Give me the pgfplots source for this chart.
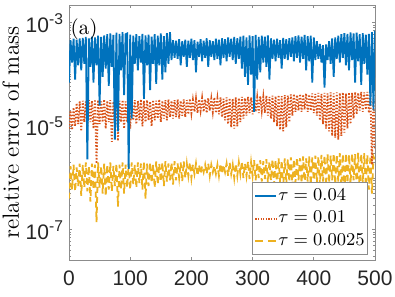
\documentclass[border=0pt]{standalone}
\usepackage{pgfplots}
\pgfplotsset{compat=1.18}
\usepackage{pgfplotstable}
\usepackage{fontspec}
\newfontfamily\hv{Liberation Sans}
\definecolor{mblue}{rgb}{0,0.447,0.741}
\definecolor{mred}{rgb}{0.85,0.325,0.098}
\definecolor{myel}{rgb}{0.929,0.694,0.125}
\pgfplotstableread{
x b r y
0 7.0e-5 9.0e-6 4.0e-7
2.5 4.6e-4 2.0e-5 1.7e-6
5 1.7e-4 8.5e-6 6.0e-7
7.5 4.9e-4 2.3e-5 1.8e-6
10 8.0e-5 1.0e-5 5.5e-7
12.5 4.7e-4 2.8e-5 1.6e-6
15 1.5e-4 1.1e-5 7.0e-7
17.5 5.0e-4 3.0e-5 1.9e-6
20 1.2e-4 8.0e-6 4.5e-7
22.5 5.1e-4 3.1e-5 1.8e-6
25 1.6e-4 1.2e-5 6.5e-7
27.5 5.3e-4 3.0e-5 2.0e-6
30 2.3e-6 1.0e-5 5.5e-7
32.5 5.0e-4 3.2e-5 1.7e-6
35 1.4e-4 1.2e-5 3.5e-7
37.5 5.4e-4 3.1e-5 1.9e-6
40 7.0e-5 9.0e-6 6.0e-7
42.5 5.2e-4 3.3e-5 1.8e-6
45 1.5e-4 1.9e-6 1.4e-7
47.5 5.6e-4 3.2e-5 2.0e-6
50 2.5e-5 1.1e-5 6.5e-7
52.5 5.3e-4 3.0e-5 1.7e-6
55 9.0e-5 1.2e-5 5.0e-7
57.5 5.7e-4 3.3e-5 1.9e-6
60 1.3e-4 9.0e-6 4.5e-7
62.5 6.0e-4 3.1e-5 1.8e-6
65 6.0e-5 1.2e-5 6.0e-7
67.5 6.2e-4 3.2e-5 2.0e-6
70 1.4e-4 5.0e-6 5.5e-7
72.5 5.8e-4 3.0e-5 1.7e-6
75 5.5e-6 1.1e-5 7.0e-7
77.5 6.4e-4 3.3e-5 1.9e-6
80 8.0e-6 5.2e-6 2.8e-7
82.5 6.1e-4 3.1e-5 1.8e-6
85 1.2e-4 1.2e-5 6.0e-7
87.5 6.6e-4 3.2e-5 2.0e-6
90 4.0e-5 9.0e-6 5.0e-7
92.5 6.0e-4 3.0e-5 1.8e-6
95 6.2e-4 1.2e-5 6.5e-7
97.5 1.5e-6 3.2e-5 1.9e-6
100 5.9e-4 9.0e-6 6.0e-7
102.5 1.4e-5 3.0e-5 2.0e-6
105 5.6e-4 1.3e-5 7.5e-7
107.5 1.6e-4 3.2e-5 1.8e-6
110 6.0e-4 1.1e-5 6.5e-7
112.5 1.2e-4 3.1e-5 2.0e-6
115 5.5e-4 1.3e-5 8.0e-7
117.5 1.7e-4 3.3e-5 1.9e-6
120 6.1e-4 1.0e-5 6.0e-7
122.5 3.4e-5 3.1e-5 2.1e-6
125 5.7e-4 1.2e-5 4.0e-7
127.5 1.5e-4 3.2e-5 1.9e-6
130 5.9e-4 1.3e-5 7.0e-7
132.5 5.0e-5 3.0e-5 2.0e-6
135 5.4e-4 1.0e-5 8.0e-7
137.5 1.6e-4 3.2e-5 1.8e-6
140 6.0e-4 1.3e-5 6.5e-7
142.5 6.6e-5 3.1e-5 2.1e-6
145 5.6e-4 1.4e-5 7.5e-7
147.5 1.5e-4 3.3e-5 1.9e-6
150 6.2e-4 1.2e-5 8.5e-7
152.5 8.0e-5 3.1e-5 2.0e-6
155 5.5e-4 1.4e-5 7.0e-7
157.5 1.1e-4 3.2e-5 2.1e-6
160 6.3e-4 1.3e-5 8.5e-7
162.5 1.6e-4 3.3e-5 1.9e-6
165 6.6e-4 1.5e-5 9.0e-7
167.5 1.9e-4 3.1e-5 2.0e-6
170 4.6e-4 1.4e-5 7.5e-7
172.5 2.1e-4 3.2e-5 2.1e-6
175 4.5e-4 1.5e-5 9.0e-7
177.5 2.0e-4 3.3e-5 1.9e-6
180 4.8e-4 1.4e-5 1.0e-6
182.5 1.5e-4 3.1e-5 2.0e-6
185 4.4e-4 1.6e-5 8.5e-7
187.5 2.2e-4 3.3e-5 2.1e-6
190 4.7e-4 1.5e-5 1.0e-6
192.5 1.4e-4 3.2e-5 1.9e-6
195 4.5e-4 1.7e-5 1.1e-6
197.5 2.1e-4 3.4e-5 2.0e-6
200 4.9e-4 1.8e-5 1.0e-6
202.5 1.9e-4 3.2e-5 1.8e-6
205 4.6e-4 1.9e-5 1.2e-6
207.5 1.1e-4 3.4e-5 1.9e-6
210 4.3e-4 1.8e-5 1.1e-6
212.5 2.2e-4 3.3e-5 1.8e-6
215 4.8e-4 2.0e-5 1.2e-6
217.5 1.8e-4 3.5e-5 1.7e-6
220 4.5e-4 1.9e-5 1.3e-6
222.5 2.1e-4 3.3e-5 1.8e-6
225 5.0e-4 1.8e-5 1.2e-6
227.5 1.4e-4 3.5e-5 1.9e-6
230 4.6e-4 2.0e-5 1.1e-6
232.5 2.2e-4 3.4e-5 1.8e-6
235 4.4e-4 1.9e-5 1.3e-6
237.5 1.9e-4 3.6e-5 1.7e-6
240 4.9e-4 1.8e-5 1.2e-6
242.5 2.0e-4 3.4e-5 1.8e-6
245 4.7e-4 1.7e-5 1.1e-6
247.5 1.5e-4 3.6e-5 1.9e-6
250 5.0e-4 1.5e-5 1.2e-6
252.5 2.1e-4 3.4e-5 1.8e-6
255 4.8e-4 1.3e-5 1.3e-6
257.5 1.8e-4 3.6e-5 1.9e-6
260 5.2e-4 1.1e-5 1.1e-6
262.5 2.2e-4 3.5e-5 2.0e-6
265 4.9e-4 9.5e-6 1.2e-6
267.5 1.9e-4 3.4e-5 1.8e-6
270 5.3e-4 9.0e-6 1.0e-6
272.5 1.6e-4 3.6e-5 1.9e-6
275 5.0e-4 1.0e-5 1.1e-6
277.5 2.0e-4 3.5e-5 2.0e-6
280 5.4e-4 1.2e-5 1.2e-6
282.5 1.3e-4 3.7e-5 2.1e-6
285 5.6e-4 1.4e-5 1.0e-6
287.5 9.0e-5 3.5e-5 1.9e-6
290 5.2e-4 1.6e-5 1.1e-6
292.5 6.3e-5 3.7e-5 2.1e-6
295 5.7e-4 1.8e-5 9.5e-7
297.5 1.0e-4 3.6e-5 2.0e-6
300 5.5e-4 1.7e-5 1.1e-6
302.5 1.9e-5 3.8e-5 2.2e-6
305 5.8e-4 1.9e-5 9.0e-7
307.5 8.0e-5 3.6e-5 2.0e-6
310 5.3e-4 1.8e-5 1.0e-6
312.5 1.1e-4 3.8e-5 2.2e-6
315 5.6e-4 2.0e-5 8.5e-7
317.5 1.7e-4 3.7e-5 2.1e-6
320 5.4e-4 1.8e-5 9.5e-7
322.5 1.4e-4 3.9e-5 2.3e-6
325 5.7e-4 1.6e-5 8.0e-7
327.5 8.0e-5 3.7e-5 2.1e-6
330 5.0e-4 1.4e-5 9.0e-7
332.5 2.0e-4 3.9e-5 2.3e-6
335 4.7e-4 1.2e-5 7.5e-7
337.5 1.8e-4 3.8e-5 2.2e-6
340 4.9e-4 1.0e-5 7.0e-7
342.5 2.1e-4 4.0e-5 2.4e-6
345 4.6e-4 8.5e-6 8.0e-7
347.5 1.3e-4 3.8e-5 2.2e-6
350 5.1e-4 8.0e-6 6.5e-7
352.5 2.0e-4 4.0e-5 2.4e-6
355 4.8e-4 9.5e-6 7.5e-7
357.5 1.9e-4 3.9e-5 2.3e-6
360 5.0e-4 1.2e-5 8.5e-7
362.5 2.2e-4 4.1e-5 2.5e-6
365 5.2e-4 1.6e-5 7.0e-7
367.5 1.8e-4 4.2e-5 2.3e-6
370 5.5e-4 1.9e-5 8.0e-7
372.5 2.1e-4 4.0e-5 2.5e-6
375 5.7e-4 2.0e-5 9.0e-7
377.5 1.7e-4 4.2e-5 2.4e-6
380 5.4e-4 1.9e-5 8.0e-7
382.5 2.0e-4 4.1e-5 2.6e-6
385 5.8e-4 2.1e-5 7.0e-7
387.5 1.2e-4 4.3e-5 2.4e-6
390 5.5e-4 1.9e-5 8.5e-7
392.5 1.8e-4 4.1e-5 2.6e-6
395 5.6e-4 2.0e-5 7.5e-7
397.5 7.0e-5 4.3e-5 2.5e-6
400 5.2e-4 1.8e-5 9.0e-7
402.5 1.9e-4 4.2e-5 2.7e-6
405 4.4e-4 1.6e-5 8.0e-7
407.5 2.0e-4 4.4e-5 2.6e-6
410 3.9e-4 1.3e-5 7.5e-7
412.5 1.7e-4 4.2e-5 2.8e-6
415 3.7e-4 1.1e-5 8.5e-7
417.5 5.6e-5 4.4e-5 2.7e-6
420 3.8e-4 9.0e-6 7.0e-7
422.5 1.9e-4 4.3e-5 2.9e-6
425 4.4e-4 8.0e-6 8.0e-7
427.5 1.6e-4 4.5e-5 2.7e-6
430 5.0e-4 6.5e-6 9.0e-7
432.5 9.0e-5 4.3e-5 3.0e-6
435 5.2e-4 6.0e-6 7.5e-7
437.5 2.0e-4 4.5e-5 2.8e-6
440 5.6e-4 5.5e-6 8.5e-7
442.5 1.7e-4 4.4e-5 3.0e-6
445 6.0e-4 6.5e-6 7.0e-7
447.5 2.1e-4 4.5e-5 2.9e-6
450 6.3e-4 7.5e-6 5.0e-7
452.5 1.5e-4 4.3e-5 3.0e-6
455 6.1e-4 9.0e-6 8.0e-7
457.5 1.2e-4 4.5e-5 2.8e-6
460 6.5e-4 1.1e-5 7.5e-7
462.5 1.9e-4 4.4e-5 3.0e-6
465 6.2e-4 1.4e-5 9.0e-7
467.5 7.0e-5 4.6e-5 2.9e-6
470 6.4e-4 1.7e-5 7.0e-7
472.5 1.8e-4 4.4e-5 3.1e-6
475 6.0e-4 2.0e-5 5.0e-7
477.5 6.3e-5 4.6e-5 2.9e-6
480 6.3e-4 1.9e-5 8.0e-7
482.5 1.6e-4 4.5e-5 3.0e-6
485 5.9e-4 2.1e-5 7.0e-7
487.5 1.0e-4 4.6e-5 2.8e-6
490 6.1e-4 1.8e-5 6.0e-7
492.5 2.5e-5 4.5e-5 2.7e-6
495 6.6e-4 1.8e-6 5.0e-7
497.5 2.1e-5 3.5e-5 2.6e-6
500 7.0e-4 3.5e-6 2.2e-6
}\datatab
\begin{document}
\begin{tikzpicture}
\begin{axis}[
  scale only axis, width=153pt, height=127.5pt,
  ymode=log, xmin=0, xmax=500, ymin=2.6e-8, ymax=2.2e-3,
  xtick={0,100,200,300,400,500},
  xticklabels={0,100,200,300,400,500},
  ytick={1e-7,1e-5,1e-3},
  yticklabels={10\raisebox{4pt}{\fontsize{7.8}{9}\selectfont -7},10\raisebox{4pt}{\fontsize{7.8}{9}\selectfont -5},10\raisebox{4pt}{\fontsize{7.8}{9}\selectfont -3}},
  minor ytick={3e-8,4e-8,5e-8,6e-8,7e-8,8e-8,9e-8,2e-7,3e-7,4e-7,5e-7,6e-7,7e-7,8e-7,9e-7,1e-6,2e-6,3e-6,4e-6,5e-6,6e-6,7e-6,8e-6,9e-6,2e-5,3e-5,4e-5,5e-5,6e-5,7e-5,8e-5,9e-5,1e-4,2e-4,3e-4,4e-4,5e-4,6e-4,7e-4,8e-4,9e-4,2e-3},
  tick align=inside, tick pos=both,
  major tick length=1.6pt, minor tick length=1.1pt,
  axis line style={black!45, line width=0.4pt},
  tick style={black!45, line width=0.4pt},
  ticklabel style={font=\hv\fontsize{10.5}{12}\selectfont, text=black!85},
  xticklabel style={yshift=-2pt},
  yticklabel style={xshift=0.5pt},
  ylabel={relative error of mass},
  ylabel style={at={(axis description cs:-0.19,0.5)}, anchor=center, font=\fontsize{11.7}{14}\selectfont},
  legend cell align=left,
  legend style={at={(0.977,0.02)}, anchor=south east, draw=black!45, line width=0.4pt, fill=white,
    font=\fontsize{9}{10}\selectfont, inner sep=1pt, row sep=0pt, nodes={inner xsep=0.5pt, inner ysep=2pt}},
  legend image code/.code={\draw[#1] (0cm,0cm) -- (0.37cm,0cm);},
]
\addlegendimage{mblue, line width=0.9pt}
\addlegendentry{$\tau=0.04$}
\addlegendimage{mred, line width=0.9pt, dash pattern=on 0.6pt off 0.7pt}
\addlegendentry{$\tau=0.01$}
\addlegendimage{myel, line width=0.9pt, dash pattern=on 4pt off 2.5pt}
\addlegendentry{$\tau=0.0025$}
\addplot[myel, line width=0.9pt, dash pattern=on 3pt off 2pt, forget plot] table[x=x, y=y] {\datatab};
\addplot[mred, line width=0.9pt, dash pattern=on 0.7pt off 0.9pt, forget plot] table[x=x, y=r] {\datatab};
\addplot[mblue, line width=0.9pt, forget plot] table[x=x, y=b] {\datatab};
\node[anchor=west, inner sep=0pt, font=\fontsize{10.5}{12}\selectfont] at (axis cs:2,7.5e-4) {(a)};
\end{axis}
\pgfresetboundingbox
\path[use as bounding box] ([shift={(-34.5pt,-18pt)}]current axis.south west) rectangle ([shift={(163pt,130pt)}]current axis.south west);
\end{tikzpicture}
\end{document}
